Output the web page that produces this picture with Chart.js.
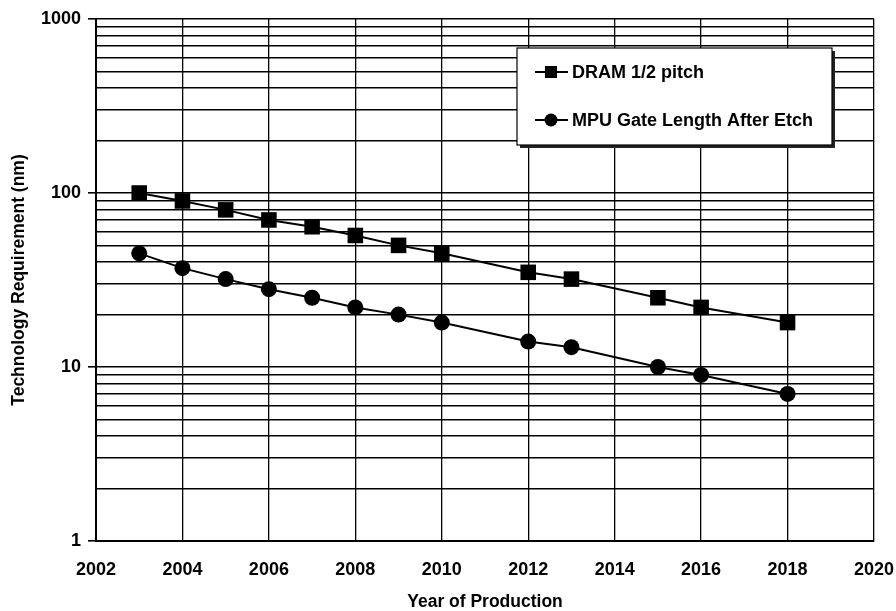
<!DOCTYPE html>
<html>
<head>
<meta charset="utf-8">
<script src="https://cdn.jsdelivr.net/npm/chart.js@4/dist/chart.umd.min.js"></script>
<style>
  html, body { margin: 0; padding: 0; background: #fff; }
  #wrap { width: 896px; height: 611px; }
</style>
</head>
<body>
<div id="wrap"><canvas id="c" width="896" height="611"></canvas></div>
<script>
// Roadmap values (nm) per production year
const years = [2003, 2004, 2005, 2006, 2007, 2008, 2009, 2010, 2012, 2013, 2015, 2016, 2018];
const dramHalfPitch = [100, 90, 80, 70, 64, 57, 50, 45, 35, 32, 25, 22, 18];
const mpuGateLength = [45, 37, 32, 28, 25, 22, 20, 18, 14, 13, 10, 9, 7];

const seriesNames = ['DRAM 1/2 pitch', 'MPU Gate Length After Etch'];
const yTickValues = [1, 2, 3, 4, 5, 6, 7, 8, 9, 10, 20, 30, 40, 50, 60, 70, 80, 90,
                     100, 200, 300, 400, 500, 600, 700, 800, 900, 1000];
const yLabelValues = [1, 10, 100, 1000];

const FONT = '"Liberation Sans", Arial, sans-serif';

const toPoints = ys => years.map((x, i) => ({ x, y: ys[i] }));

// Boxed legend drawn inside the plot, with a drop shadow
const boxLegend = {
  id: 'boxLegend',
  afterDraw(chart) {
    const ctx = chart.ctx;
    const x = 517, y = 48, w = 315, h = 97;
    ctx.save();
    ctx.fillStyle = '#222';
    ctx.fillRect(x + 3, y + 3, w, h);
    ctx.fillStyle = '#fff';
    ctx.fillRect(x, y, w, h);
    ctx.strokeStyle = '#000';
    ctx.lineWidth = 1.2;
    ctx.strokeRect(x, y, w, h);

    const rows = [
      { cy: 72, label: seriesNames[0], style: 'rect' },
      { cy: 120, label: seriesNames[1], style: 'circle' }
    ];
    ctx.font = 'bold 18px ' + FONT;
    ctx.textBaseline = 'middle';
    rows.forEach(r => {
      ctx.strokeStyle = '#000';
      ctx.lineWidth = 2;
      ctx.beginPath();
      ctx.moveTo(535, r.cy);
      ctx.lineTo(568, r.cy);
      ctx.stroke();
      ctx.fillStyle = '#000';
      if (r.style === 'rect') {
        ctx.fillRect(545, r.cy - 6, 12, 12);
      } else {
        ctx.beginPath();
        ctx.arc(551, r.cy, 6.5, 0, Math.PI * 2);
        ctx.fill();
      }
      ctx.fillText(r.label, 572, r.cy + 1);
    });
    ctx.restore();
  }
};

new Chart(document.getElementById('c'), {
  type: 'line',
  data: {
    datasets: [
      {
        label: seriesNames[0],
        data: toPoints(dramHalfPitch),
        borderColor: '#000',
        backgroundColor: '#000',
        borderWidth: 2,
        pointStyle: 'rect',
        pointRadius: 11,
        pointBorderWidth: 0,
        tension: 0
      },
      {
        label: seriesNames[1],
        data: toPoints(mpuGateLength),
        borderColor: '#000',
        backgroundColor: '#000',
        borderWidth: 2,
        pointStyle: 'circle',
        pointRadius: 8,
        pointBorderWidth: 0,
        tension: 0
      }
    ]
  },
  options: {
    responsive: false,
    animation: false,
    devicePixelRatio: 1,
    layout: { padding: { top: 19, right: 22, left: 0, bottom: 0 } },
    plugins: {
      legend: { display: false },
      tooltip: { enabled: false }
    },
    scales: {
      x: {
        type: 'linear',
        min: 2002,
        max: 2020,
        ticks: {
          stepSize: 2,
          color: '#000',
          padding: 18,
          font: { family: FONT, size: 18, weight: 'bold' },
          callback: v => String(v)
        },
        grid: {
          color: '#000',
          lineWidth: 1.3,
          drawTicks: false
        },
        border: { color: '#000', width: 2 },
        title: {
          display: true,
          text: 'Year of Production',
          color: '#000',
          font: { family: FONT, size: 17.5, weight: 'bold', lineHeight: 1 },
          padding: { top: 0, bottom: 0 }
        },
        afterFit: s => { s.height = 70; s.paddingLeft = 0; s.paddingRight = 0; }
      },
      y: {
        type: 'logarithmic',
        min: 1,
        max: 1000,
        afterBuildTicks: s => { s.ticks = yTickValues.map(v => ({ value: v })); },
        ticks: {
          color: '#000',
          padding: 7,
          autoSkip: false,
          font: { family: FONT, size: 18, weight: 'bold' },
          callback: v => (yLabelValues.includes(v) ? String(v) : '')
        },
        grid: {
          color: '#000',
          lineWidth: 1.6,
          tickLength: 8,
          tickColor: ctx => (ctx.tick && yLabelValues.includes(ctx.tick.value) ? '#000' : 'rgba(0,0,0,0)')
        },
        border: { color: '#000', width: 2 },
        title: {
          display: true,
          text: 'Technology Requirement (nm)',
          color: '#000',
          font: { family: FONT, size: 17.5, weight: 'bold', lineHeight: 1 },
          padding: { top: 10, bottom: 0 }
        },
        afterFit: s => { s.width = 96; s.paddingTop = 0; s.paddingBottom = 0; }
      }
    }
  },
  plugins: [boxLegend]
});
</script>
</body>
</html>
